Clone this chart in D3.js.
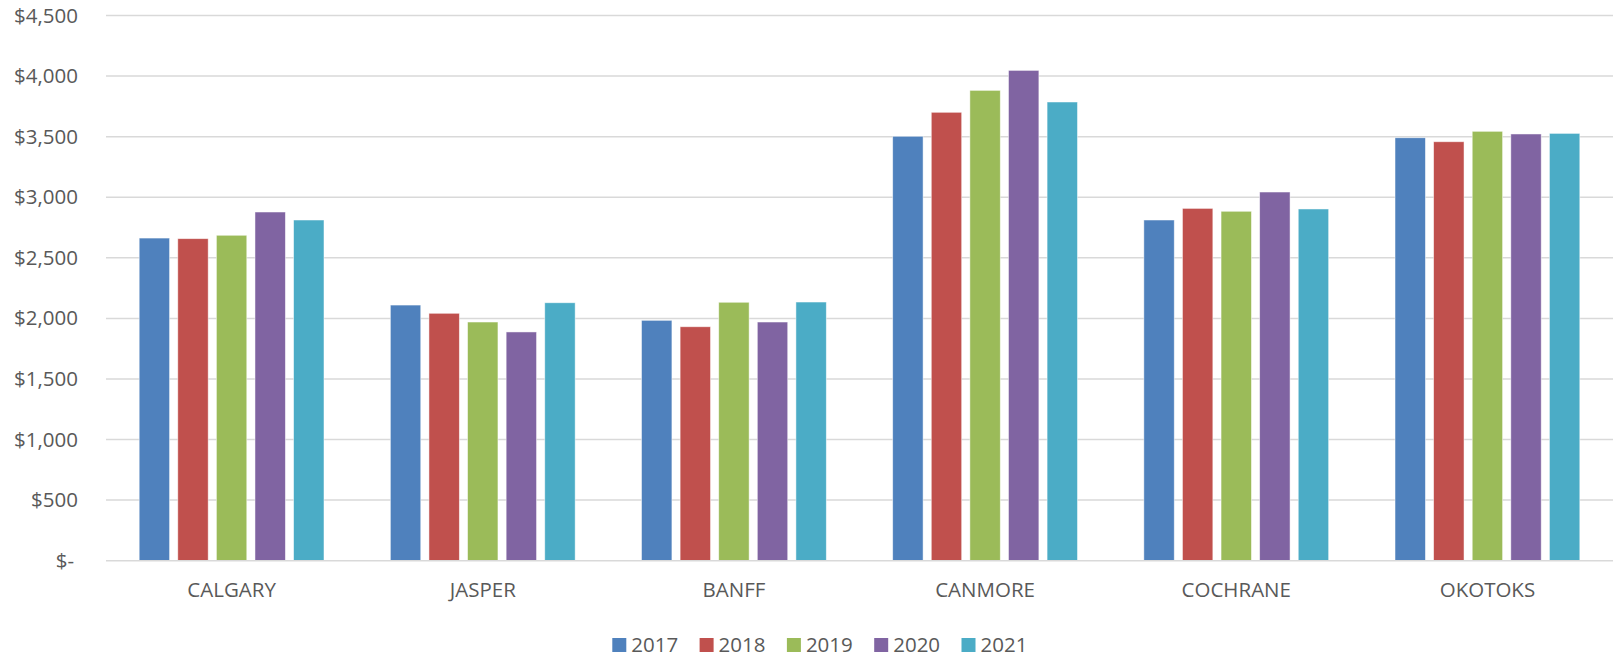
<!DOCTYPE html>
<html>
<head>
<meta charset="utf-8">
<script src="https://cdn.jsdelivr.net/npm/d3@7"></script>
<style>
  html, body { margin: 0; padding: 0; background: #fff; }
  svg { display: block; }
  text { font-family: "Open Sans", "Noto Sans", sans-serif; fill: #595959; }
</style>
</head>
<body>
<svg id="chart" width="1621" height="659"></svg>
<script>
const categories = ["CALGARY", "JASPER", "BANFF", "CANMORE", "COCHRANE", "OKOTOKS"];
const years = ["2017", "2018", "2019", "2020", "2021"];
const colors = ["#4F81BD", "#C0504D", "#9BBB59", "#8064A2", "#4BACC6"];
const values2017 = [2663, 2110, 1984, 3503, 2812, 3491];
const values2018 = [2658, 2042, 1931, 3701, 2908, 3458];
const values2019 = [2686, 1970, 2133, 3882, 2884, 3544];
const values2020 = [2878, 1888, 1970, 4047, 3043, 3522];
const values2021 = [2812, 2129, 2135, 3786, 2903, 3527];
const series = [values2017, values2018, values2019, values2020, values2021];
const yTicks = [0, 500, 1000, 1500, 2000, 2500, 3000, 3500, 4000, 4500];

(function () {
const svg = d3.select("#chart");
const mLeft = 106, mRight = 1613, mTop = 15.5, mBottom = 560.7;
const fs = "20.5px";

const x = d3.scaleBand().domain(categories).range([mLeft, mRight]).paddingInner(0).paddingOuter(0);
const y = d3.scaleLinear().domain([0, 4500]).range([mBottom, mTop]);

const fmt = v => v === 0 ? "$-" : "$" + d3.format(",")(v);

// gridlines
svg.append("g").selectAll("line").data(yTicks.filter(t => t > 0)).join("line")
  .attr("x1", mLeft).attr("x2", mRight)
  .attr("y1", d => y(d)).attr("y2", d => y(d))
  .attr("stroke", "#D9D9D9").attr("stroke-width", 1.5);

// y axis labels
const yAxis = d3.axisLeft(y).tickValues(yTicks).tickFormat(fmt).tickSize(0).tickPadding(0);
const yg = svg.append("g").attr("transform", `translate(${mLeft - 28},0)`).call(yAxis);
yg.select(".domain").remove();
yg.selectAll("text").style("font-size", fs).style("fill", "#595959")
  .style("font-family", '"Open Sans", sans-serif');
yg.selectAll(".tick").filter(d => d === 0).select("text").attr("dx", "-4");

// bars
const step = 38.6, bw = 30.4;
const groups = svg.append("g");
series.forEach((vals, si) => {
  groups.append("g").selectAll("rect").data(vals).join("rect")
    .attr("x", (d, i) => x(categories[i]) + x.bandwidth() / 2 + (si - 2) * step - bw / 2)
    .attr("width", bw)
    .attr("y", d => y(d))
    .attr("height", d => y(0) - y(d))
    .attr("fill", colors[si])
    .attr("stroke", "#ffffff").attr("stroke-opacity", 0.6).attr("stroke-width", 0.8);
});

// baseline
svg.append("line").attr("x1", mLeft).attr("x2", mRight)
  .attr("y1", y(0)).attr("y2", y(0))
  .attr("stroke", "#D9D9D9").attr("stroke-width", 1.5);

// x axis labels
const xAxis = d3.axisBottom(x).tickSize(0).tickPadding(0);
const xg = svg.append("g").attr("transform", `translate(0,${mBottom + 22})`).call(xAxis);
xg.select(".domain").remove();
xg.selectAll("text").style("font-size", fs).style("fill", "#595959")
  .style("font-family", '"Open Sans", sans-serif');

// legend
const legX0 = 612.3, legStep = 87.3, legY = 645;
const leg = svg.append("g").selectAll("g").data(years).join("g")
  .attr("transform", (d, i) => `translate(${legX0 + i * legStep},${legY})`);
leg.append("rect").attr("x", 0).attr("y", -7).attr("width", 14).attr("height", 14)
  .attr("fill", (d, i) => colors[i]);
leg.append("text").attr("x", 19).attr("y", 0).attr("dy", "0.35em")
  .style("font-size", fs).text(d => d);
})();
</script>
</body>
</html>
